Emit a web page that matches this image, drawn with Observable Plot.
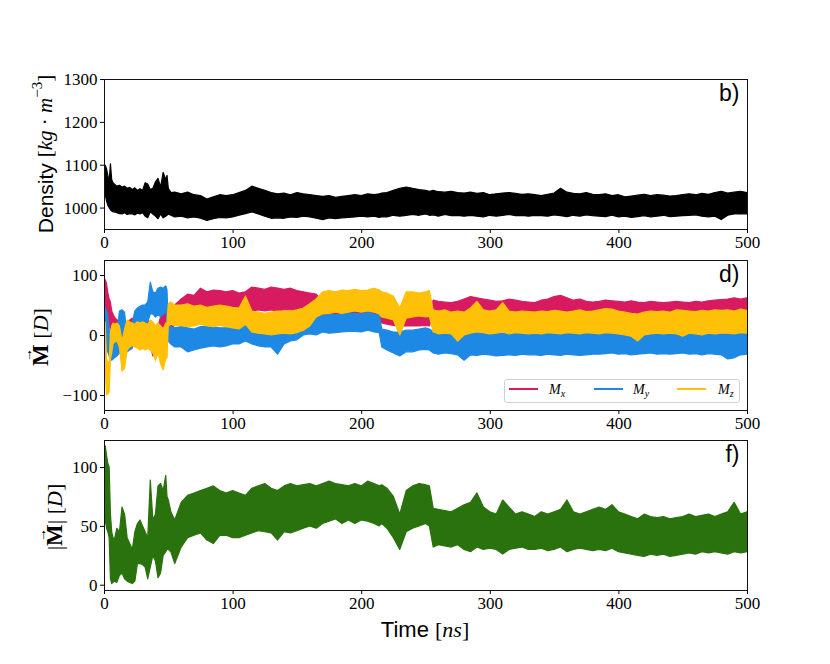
<!DOCTYPE html>
<html><head><meta charset="utf-8">
<script src="https://cdn.jsdelivr.net/npm/d3@7"></script>
<script src="https://cdn.jsdelivr.net/npm/@observablehq/plot@0.6"></script>
<style>
body{margin:0;background:#fff;}
#chart{position:relative;width:830px;height:664px;overflow:hidden;}
#chart svg{position:absolute;left:0;}
#legend{position:absolute;left:504px;top:379px;width:234px;height:22px;border:1px solid #d0d0d0;border-radius:3px;background:rgba(255,255,255,0.85);}
#legend .ln{position:absolute;top:8px;width:29px;height:2px;}
#legend .lb{position:absolute;top:2px;font:italic 14px 'Liberation Serif',serif;line-height:16px;color:#000;}
#legend .lb span{font-size:10px;position:relative;top:3px;}
</style></head><body><div id="chart"></div>
<script>
// ---- data (time in ns) ----
const time = [
  0,1,2,3,4,5,6,7,8,10,
  12,14,16,18,20,22,24,26,28,30,
  32,34,36,38,40,42,44,46,48,49,
  50,52,55,60,65,70,75,80,85,90,
  95,100,105,110,115,120,125,130,135,140,
  145,150,155,160,165,170,175,180,185,190,
  195,200,205,210,214,216,220,225,230,235,
  240,245,250,253,256,260,265,270,275,280,
  285,290,295,300,305,310,315,320,325,330,
  335,340,345,350,355,360,365,370,375,380,
  385,390,395,400,405,410,415,420,425,430,
  435,440,445,450,455,460,465,470,475,480,
  485,490,495,500];

// density [kg m^-3]: lower / upper edge of the fluctuation band
const densityHi = [
  1100,1098,1090,1075,1060,1102,1065,1058,1055,1050,
  1052,1048,1050,1045,1047,1042,1046,1040,1044,1040,
  1058,1055,1042,1045,1060,1068,1048,1082,1065,1075,
  1045,1035,1036,1032,1036,1030,1028,1020,1025,1030,
  1028,1030,1035,1040,1050,1045,1040,1035,1032,1034,
  1030,1035,1032,1030,1028,1026,1028,1024,1026,1028,
  1030,1028,1032,1030,1032,1034,1035,1040,1045,1048,
  1045,1042,1040,1038,1040,1037,1036,1038,1035,1034,
  1036,1033,1035,1030,1032,1034,1035,1033,1031,1032,
  1030,1028,1031,1034,1045,1036,1033,1032,1035,1031,
  1030,1032,1028,1030,1025,1027,1029,1031,1028,1030,
  1029,1027,1028,1030,1032,1030,1033,1031,1035,1038,
  1034,1036,1038,1035];
const densityLo = [
  1035,1030,1015,1005,1000,995,992,990,990,988,
  986,985,988,984,986,985,983,987,985,988,
  980,976,990,985,980,974,985,976,980,982,
  985,982,978,980,976,978,975,970,974,977,
  976,978,982,986,990,985,980,975,976,975,
  978,977,980,978,975,972,976,974,976,977,
  978,980,978,980,977,979,978,982,980,982,
  984,982,985,982,983,980,984,981,982,980,
  982,980,978,982,980,982,984,981,982,980,
  982,981,980,983,981,979,982,980,983,981,
  980,979,982,978,980,977,979,981,978,980,
  982,979,980,981,982,983,980,978,980,972,
  982,985,986,985];

// dipole components [D]
const mxHi = [
  90,92,85,70,60,55,40,35,30,25,
  25,22,20,22,25,28,24,26,25,28,
  26,25,20,-12,-10,15,30,35,38,30,
  20,15,50,60,68,66,78,72,75,74,
  72,74,70,72,80,78,76,80,78,76,
  78,74,72,70,68,55,52,54,52,55,
  55,54,56,55,50,48,45,44,42,40,
  40,38,36,37,58,56,55,54,56,60,
  64,62,60,58,56,57,60,58,56,55,
  54,58,60,64,66,62,58,60,56,55,
  56,58,57,56,55,57,55,54,56,55,
  54,55,56,55,54,56,55,57,58,59,
  60,62,60,62];
const mxLo = [
  -10,0,5,10,15,10,5,0,-5,-10,
  -5,-10,-15,-5,0,5,0,5,2,5,
  0,-5,-15,-35,-33,-20,-5,5,10,5,
  0,-10,25,38,40,40,42,40,38,40,
  40,42,40,38,40,42,40,42,40,42,
  42,40,40,38,36,30,30,32,30,32,
  32,30,32,30,25,20,18,16,15,15,
  15,15,16,15,35,36,35,34,36,35,
  36,35,36,35,34,36,35,36,35,34,
  35,34,36,37,36,35,34,36,35,34,
  34,35,36,35,34,33,34,35,34,33,
  34,33,34,35,34,36,35,34,36,35,
  36,37,36,38];
const myHi = [
  50,45,40,30,10,-5,-10,-12,-5,5,
  40,42,38,-5,0,20,40,45,48,50,
  50,55,88,72,70,78,80,78,82,75,
  15,14,12,14,12,10,14,15,13,12,
  12,14,15,20,12,10,8,5,2,8,
  10,12,28,30,32,33,35,34,35,36,
  36,35,38,35,34,10,8,5,5,8,
  8,10,12,10,6,5,6,5,4,3,
  5,4,6,5,4,3,5,4,3,4,
  5,4,5,3,4,5,4,6,5,4,
  5,6,8,7,5,4,3,5,4,5,
  4,5,6,4,5,4,5,6,5,4,
  5,6,5,6];
const myLo = [
  -45,-40,-30,-25,-35,-40,-42,-40,-38,-35,
  -30,-20,-15,-28,-25,-22,15,20,18,20,
  20,22,35,35,30,35,30,35,40,20,
  -10,-15,-20,-20,-28,-25,-22,-20,-18,-20,
  -18,-15,-15,-10,-15,-18,-20,-20,-32,-15,
  -10,-8,0,2,0,5,3,4,5,6,
  6,5,8,5,4,-20,-25,-30,-35,-28,
  -28,-25,-24,-25,-30,-32,-30,-31,-33,-42,
  -33,-34,-32,-33,-35,-34,-33,-34,-32,-33,
  -33,-34,-32,-33,-34,-32,-33,-34,-33,-32,
  -32,-31,-30,-32,-31,-33,-32,-31,-30,-32,
  -31,-32,-31,-30,-32,-31,-33,-31,-32,-33,
  -40,-38,-33,-32];
const mzHi = [
  25,20,-40,-45,-50,5,15,20,18,20,
  15,-10,10,25,22,20,18,22,20,22,
  20,18,25,22,15,20,15,10,20,20,
  52,55,50,50,52,48,50,46,48,50,
  48,46,45,65,40,38,36,38,40,40,
  40,42,45,52,60,72,74,72,75,74,
  76,74,75,78,75,72,70,65,45,72,
  72,70,72,74,42,40,42,38,40,38,
  45,56,42,40,42,54,40,38,40,39,
  38,40,39,41,40,38,40,42,39,40,
  42,44,43,40,38,36,35,38,40,39,
  40,38,42,41,40,39,41,40,42,41,
  42,40,43,41];
const mzLo = [
  -15,-60,-100,-98,-95,-40,-30,-15,-12,-10,
  -20,-60,-55,-25,-20,-18,-20,-22,-25,-22,
  -25,-22,-25,-30,-42,-30,-48,-58,-40,-38,
  15,18,15,16,14,15,18,15,14,16,
  14,12,10,18,5,3,2,0,2,3,
  2,4,8,15,30,35,36,38,36,38,
  40,38,40,38,35,30,28,25,0,28,
  30,32,30,31,5,2,3,2,-10,0,
  3,5,4,2,3,5,2,4,3,2,
  3,2,4,3,2,4,3,2,4,3,
  2,4,3,2,0,-2,-10,0,2,3,
  2,3,2,-2,3,2,0,3,2,3,
  3,2,4,3];

// dipole magnitude [D]
const magHi = [
  105,118,110,103,100,60,45,40,38,48,
  45,66,60,40,35,30,45,52,55,50,
  45,40,89,55,60,84,86,80,93,75,
  72,62,55,70,76,78,80,82,84,80,
  78,80,78,76,82,84,86,82,80,84,
  86,84,85,86,84,86,88,86,85,84,
  86,84,88,86,84,85,82,75,60,80,
  84,86,85,84,65,64,63,62,65,68,
  70,78,66,62,60,72,66,60,62,60,
  58,62,60,62,64,72,62,60,62,64,
  66,64,68,62,60,58,56,60,58,57,
  58,56,57,58,60,58,59,60,58,60,
  62,70,60,62];
const magLo = [
  50,55,48,45,40,5,1,2,3,2,
  8,10,5,3,2,1,3,18,18,17,
  15,5,15,25,20,6,10,25,28,30,
  30,28,18,32,40,42,44,38,35,42,
  42,40,40,42,44,46,45,44,38,45,
  44,46,48,50,48,52,54,56,52,55,
  52,55,54,52,50,52,48,40,30,45,
  48,50,52,50,32,34,33,32,34,30,
  28,32,30,31,30,26,30,31,32,30,
  30,31,29,30,32,28,30,31,30,29,
  30,29,31,28,27,26,25,24,26,25,
  26,24,25,26,27,26,28,27,28,27,
  26,28,27,28];

const xTicks = [0, 100, 200, 300, 400, 500];
const densityTicks = [1000, 1100, 1200, 1300];
const compTicks = [-100, 0, 100];
const magTicks = [0, 50, 100];
const compNames = ["x", "y", "z"];
const compColors = ["#d81b60", "#1e88e5", "#ffc107"];
const magColor = "#2a720d";

// ---- drawing ----
const container = document.getElementById("chart");
const W = 830, ML = 104, MR = 83, FH = 150, MT = 10;
const serif = "'Liberation Serif', serif", sans = "'Liberation Sans', sans-serif";
const fmt = d3.format("d");

function rows(lo, hi) { return time.map((t, i) => ({t, lo: lo[i], hi: hi[i]})); }

function panel(top, mb, yDomain, yTicks, series, tag) {
  const svg = Plot.plot({
    width: W, height: FH + MT + mb,
    marginLeft: ML, marginRight: MR, marginTop: MT, marginBottom: mb,
    style: {fontFamily: serif, fontSize: "17px", color: "#000", background: "transparent", overflow: "visible"},
    x: {domain: [0, 500], ticks: xTicks, tickSize: 4, tickPadding: 2, label: null, tickFormat: fmt},
    y: {domain: yDomain, ticks: yTicks, tickSize: 4, tickPadding: 3, label: null, tickFormat: fmt},
    marks: [
      ...series.map(s => Plot.areaY(rows(s.lo, s.hi), {x: "t", y1: "lo", y2: "hi", fill: s.color, stroke: s.color, strokeWidth: 1.2, clip: true})),
      Plot.frame({stroke: "#111"}),
      Plot.text([tag], {text: d => d, frameAnchor: "top-right", textAnchor: "end", lineAnchor: "top", dx: -8, dy: 5, fontSize: 23, fontFamily: sans, fill: "#000"})
    ]
  });
  svg.style.top = (top - MT) + "px";
  container.appendChild(svg);
  return {svg, off: top - MT};
}

function label(p, cx, cy, parts, rotate, arrowIdx) {
  const g = d3.select(p.svg).append("g")
    .attr("transform", `translate(${cx},${cy - p.off})` + (rotate ? " rotate(-90)" : ""));
  const text = g.append("text").attr("fill", "#000").attr("text-anchor", "start").attr("dominant-baseline", "central");
  for (const q of parts) {
    const ts = text.append("tspan").text(q.t).attr("font-family", q.f).attr("font-size", q.s);
    if (q.i) ts.attr("font-style", "italic");
    if (q.b) ts.attr("font-weight", "bold");
    if (q.dy) ts.attr("dy", q.dy);
  }
  const w = text.node().getComputedTextLength();
  text.attr("x", -w / 2);
  if (arrowIdx != null) {
    const a = text.node().getStartPositionOfChar(arrowIdx);
    const b = text.node().getEndPositionOfChar(arrowIdx);
    g.append("text").text("\u2192").attr("x", (a.x + b.x) / 2).attr("y", -13)
      .attr("text-anchor", "middle").attr("dominant-baseline", "central")
      .attr("font-family", serif).attr("font-size", 14).attr("fill", "#000");
  }
}

const p1 = panel(79, 40, [950, 1300], densityTicks, [{lo: densityLo, hi: densityHi, color: "#000"}], "b)");
const p2 = panel(260, 40, [-125, 125], compTicks, [
  {lo: mxLo, hi: mxHi, color: compColors[0]},
  {lo: myLo, hi: myHi, color: compColors[1]},
  {lo: mzLo, hi: mzHi, color: compColors[2]}], "d)");
const p3 = panel(440, 64, [-4.5, 123], magTicks, [{lo: magLo, hi: magHi, color: magColor}], "f)");

label(p1, 45, 154, [
  {t: "Density ", f: sans, s: 21},
  {t: "[", f: serif, s: 21},
  {t: "kg", f: serif, s: 21, i: true},
  {t: " \u00b7 ", f: serif, s: 21},
  {t: "m", f: serif, s: 21, i: true},
  {t: "\u22123", f: serif, s: 15, dy: -8},
  {t: "]", f: serif, s: 21, dy: 8}], true);
label(p2, 40, 337, [
  {t: "M", f: serif, s: 23, b: true},
  {t: " [", f: serif, s: 22},
  {t: "D", f: serif, s: 22, i: true},
  {t: "]", f: serif, s: 22}], true, 0);
label(p3, 54, 517, [
  {t: "|", f: serif, s: 22},
  {t: "M", f: serif, s: 23, b: true},
  {t: "| [", f: serif, s: 22},
  {t: "D", f: serif, s: 22, i: true},
  {t: "]", f: serif, s: 22}], true, 1);
label(p3, 425, 629, [
  {t: "Time ", f: sans, s: 22},
  {t: "[", f: serif, s: 22},
  {t: "ns", f: serif, s: 22, i: true},
  {t: "]", f: serif, s: 22}], false);

// legend
const legend = document.createElement("div");
legend.id = "legend";
const lineX = [4, 89, 172], textX = [44, 128, 213];
compNames.forEach((n, i) => {
  const ln = document.createElement("div");
  ln.className = "ln"; ln.style.left = lineX[i] + "px"; ln.style.background = compColors[i];
  legend.appendChild(ln);
  const lb = document.createElement("div");
  lb.className = "lb"; lb.style.left = textX[i] + "px";
  lb.innerHTML = "M<span>" + n + "</span>";
  legend.appendChild(lb);
});
container.appendChild(legend);
</script></body></html>
